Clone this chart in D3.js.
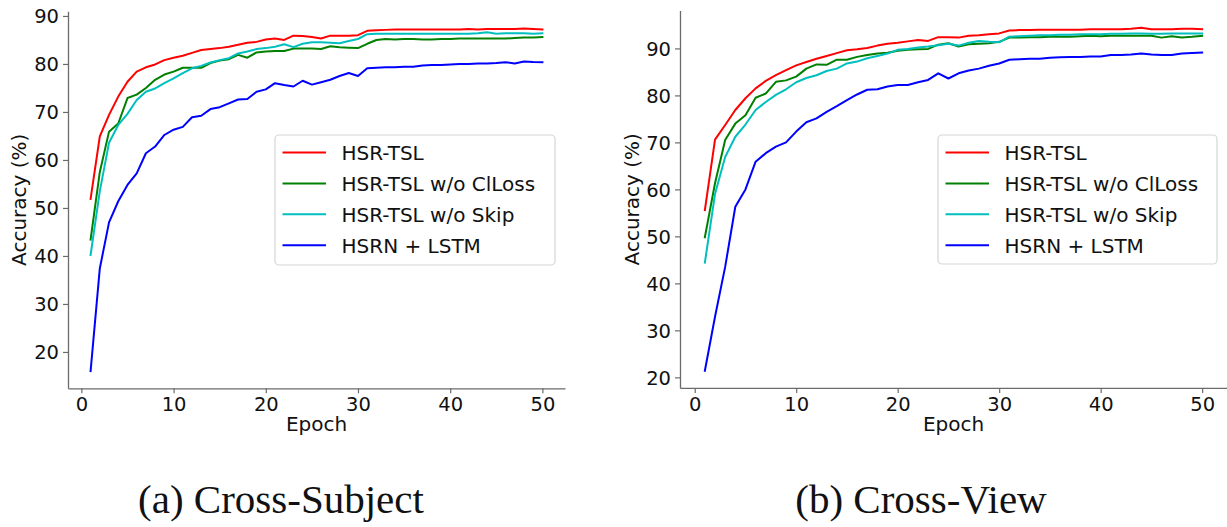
<!DOCTYPE html>
<html>
<head>
<meta charset="utf-8">
<script src="https://cdn.jsdelivr.net/npm/d3@7"></script>
<style>
  html, body { margin: 0; padding: 0; background: #fff; }
  svg { display: block; }
  .tick text { font-family: "DejaVu Sans", sans-serif; fill: #111; }
</style>
</head>
<body>
<svg id="fig" width="1227" height="527"></svg>
<script>
// Training epochs (x axis)
const epochs = d3.range(1, 51);

const seriesNames = ["HSR-TSL", "HSR-TSL w/o ClLoss", "HSR-TSL w/o Skip", "HSRN + LSTM"];
const xTicks = [0, 10, 20, 30, 40, 50];
const yTicks = [20, 30, 40, 50, 60, 70, 80, 90];
const captions = ["(a) Cross-Subject", "(b) Cross-View"];

// Cross-Subject accuracy (%) per epoch
const csFull = [51.9, 64.9, 69.4, 73.2, 76.3, 78.4, 79.3, 79.9, 80.8, 81.3,
  81.7, 82.3, 82.9, 83.1, 83.3, 83.6, 84.0, 84.4, 84.6, 85.1,
  85.3, 85.0, 85.9, 85.8, 85.6, 85.3, 85.9, 85.9, 85.9, 86.0,
  86.9, 87.0, 87.1, 87.2, 87.2, 87.2, 87.2, 87.2, 87.2, 87.2,
  87.2, 87.3, 87.2, 87.3, 87.3, 87.3, 87.3, 87.4, 87.3, 87.2];
const csNoClLoss = [43.4, 57.5, 65.9, 67.6, 72.9, 73.6, 75.0, 76.7, 77.8, 78.4,
  79.2, 79.2, 79.2, 80.2, 80.7, 81.0, 81.9, 81.3, 82.4, 82.6,
  82.7, 82.7, 83.2, 83.2, 83.2, 83.1, 83.7, 83.5, 83.4, 83.3,
  84.2, 85.0, 85.2, 85.1, 85.2, 85.2, 85.1, 85.1, 85.2, 85.2,
  85.3, 85.3, 85.3, 85.3, 85.3, 85.3, 85.4, 85.5, 85.5, 85.6];
const csNoSkip = [40.2, 53.5, 63.6, 67.3, 69.6, 72.5, 74.2, 74.9, 76.0, 77.0,
  78.1, 79.1, 79.6, 80.3, 80.8, 81.2, 82.2, 82.6, 83.1, 83.3,
  83.6, 84.1, 83.5, 84.2, 84.5, 84.5, 84.4, 84.3, 84.8, 85.2,
  86.2, 86.3, 86.3, 86.3, 86.3, 86.3, 86.3, 86.3, 86.3, 86.3,
  86.3, 86.3, 86.4, 86.6, 86.3, 86.4, 86.4, 86.4, 86.3, 86.4];
const csLstm = [16.0, 37.4, 47.0, 51.4, 54.8, 57.2, 61.4, 62.8, 65.2, 66.3,
  66.9, 68.9, 69.2, 70.6, 71.0, 71.8, 72.6, 72.7, 74.2, 74.7,
  76.0, 75.6, 75.3, 76.5, 75.7, 76.2, 76.7, 77.5, 78.1, 77.5,
  79.1, 79.2, 79.3, 79.3, 79.4, 79.4, 79.7, 79.8, 79.8, 79.9,
  80.0, 80.0, 80.1, 80.1, 80.2, 80.35, 80.1, 80.5, 80.4, 80.35];

// Cross-View accuracy (%) per epoch
const cvFull = [55.6, 70.6, 73.7, 76.9, 79.4, 81.5, 83.1, 84.3, 85.4, 86.4,
  87.1, 87.8, 88.4, 89.0, 89.6, 89.8, 90.1, 90.6, 91.0, 91.2,
  91.5, 91.8, 91.6, 92.4, 92.4, 92.3, 92.7, 92.8, 93.0, 93.2,
  93.8, 93.9, 93.9, 94.0, 94.0, 94.0, 94.0, 94.0, 94.1, 94.1,
  94.1, 94.1, 94.2, 94.4, 94.1, 94.1, 94.1, 94.2, 94.2, 94.1];
const cvNoClLoss = [49.8, 61.3, 70.5, 74.0, 75.8, 79.5, 80.4, 82.9, 83.2, 84.0,
  85.7, 86.6, 86.5, 87.6, 87.6, 88.2, 88.6, 88.9, 89.1, 89.5,
  89.7, 89.8, 89.9, 90.8, 91.1, 90.4, 90.9, 91.0, 91.1, 91.4,
  92.3, 92.3, 92.4, 92.4, 92.5, 92.5, 92.5, 92.6, 92.7, 92.6,
  92.7, 92.7, 92.7, 92.7, 92.7, 92.3, 92.6, 92.35, 92.5, 92.7];
const cvNoSkip = [44.4, 59.0, 66.9, 71.2, 73.8, 76.9, 78.6, 80.1, 81.3, 82.8,
  83.7, 84.3, 85.2, 85.7, 86.8, 87.2, 87.9, 88.4, 88.9, 89.7,
  89.9, 90.2, 90.4, 90.7, 91.0, 90.6, 91.2, 91.6, 91.4, 91.3,
  92.5, 92.6, 92.7, 92.8, 92.8, 92.9, 92.9, 93.0, 93.0, 93.0,
  93.1, 93.1, 93.2, 93.2, 93.1, 93.1, 93.2, 93.2, 93.2, 93.2];
const cvLstm = [21.4, 32.9, 43.5, 56.3, 60.0, 65.9, 67.7, 69.1, 70.0, 72.3,
  74.3, 75.1, 76.5, 77.7, 79.0, 80.2, 81.2, 81.3, 81.9, 82.2,
  82.2, 82.8, 83.3, 84.7, 83.6, 84.7, 85.3, 85.7, 86.3, 86.8,
  87.6, 87.7, 87.8, 87.8, 88.0, 88.1, 88.2, 88.2, 88.3, 88.3,
  88.6, 88.6, 88.7, 88.9, 88.7, 88.6, 88.6, 88.9, 89.0, 89.1];

// Line colours: red, green, cyan, blue
const lineColors = ["#ff0000", "#008000", "#00bfbf", "#0000ff"];

const panels = [
  { series: [csFull, csNoClLoss, csNoSkip, csLstm], caption: captions[0],
    box: { left: 68, right: 565, top: 11.3, bottom: 388.3 },
    yLabelX: 26, legend: { left: 275, right: 555, top: 135, bottom: 265 },
    captionX: 281 },
  { series: [cvFull, cvNoClLoss, cvNoSkip, cvLstm], caption: captions[1],
    box: { left: 680, right: 1227, top: 10.6, bottom: 387.9 },
    yLabelX: 639, legend: { left: 938, right: 1217, top: 135, bottom: 264 },
    captionX: 921 }
];

const svg = d3.select("#fig");
const tickFont = 19.5;
const labelFont = 20;

panels.forEach(p => {
  const g = svg.append("g");
  const b = p.box;

  // axis limits with a 5% margin around the data, as a matplotlib figure would
  const xMin = d3.min(epochs), xMax = d3.max(epochs);
  const xPad = (xMax - xMin) * 0.05;
  const allVals = p.series.flat();
  const yMin = d3.min(allVals), yMax = d3.max(allVals);
  const yPad = (yMax - yMin) * 0.05;

  const x = d3.scaleLinear().domain([xMin - xPad, xMax + xPad]).range([b.left, b.right]);
  const y = d3.scaleLinear().domain([yMin - yPad, yMax + yPad]).range([b.bottom, b.top]);

  // curves
  const line = d3.line().x((d, i) => x(epochs[i])).y(d => y(d));
  p.series.forEach((vals, k) => {
    g.append("path")
      .datum(vals)
      .attr("d", line)
      .attr("fill", "none")
      .attr("stroke", lineColors[k])
      .attr("stroke-width", 2)
      .attr("stroke-linejoin", "round")
      .attr("stroke-linecap", "square");
  });

  // axes (left and bottom spines only)
  const xAxis = g.append("g")
    .attr("transform", `translate(0,${b.bottom})`)
    .call(d3.axisBottom(x).tickValues(xTicks).tickFormat(d3.format("d"))
      .tickSize(5).tickSizeOuter(0).tickPadding(4));
  const yAxis = g.append("g")
    .attr("transform", `translate(${b.left},0)`)
    .call(d3.axisLeft(y).tickValues(yTicks).tickFormat(d3.format("d"))
      .tickSize(5).tickSizeOuter(0).tickPadding(4));

  [xAxis, yAxis].forEach(a => {
    a.select(".domain").attr("stroke", "#6b6b6b").attr("stroke-width", 1.3);
    a.selectAll(".tick line").attr("stroke", "#6b6b6b").attr("stroke-width", 1.2);
    a.selectAll(".tick text").attr("font-size", tickFont).attr("fill", "#111");
  });
  yAxis.selectAll(".tick text").attr("dy", "0.36em");

  // axis titles
  g.append("text")
    .attr("x", (b.left + b.right) / 2)
    .attr("y", 431)
    .attr("text-anchor", "middle")
    .attr("font-family", "DejaVu Sans, sans-serif")
    .attr("font-size", labelFont)
    .attr("fill", "#111")
    .text("Epoch");
  g.append("text")
    .attr("transform", `translate(${p.yLabelX},${(b.top + b.bottom) / 2}) rotate(-90)`)
    .attr("text-anchor", "middle")
    .attr("font-family", "DejaVu Sans, sans-serif")
    .attr("font-size", labelFont)
    .attr("fill", "#111")
    .text("Accuracy (%)");

  // legend
  const L = p.legend;
  const lg = g.append("g");
  lg.append("rect")
    .attr("x", L.left).attr("y", L.top)
    .attr("width", L.right - L.left).attr("height", L.bottom - L.top)
    .attr("rx", 4).attr("ry", 4)
    .attr("fill", "#fff").attr("fill-opacity", 0.8)
    .attr("stroke", "#d6d6d6").attr("stroke-width", 1.2);
  const rowH = (L.bottom - L.top) / seriesNames.length;
  seriesNames.forEach((name, k) => {
    const cy = L.top + 17.5 + k * 30.9;
    lg.append("line")
      .attr("x1", L.left + 7.5).attr("x2", L.left + 51)
      .attr("y1", cy).attr("y2", cy)
      .attr("stroke", lineColors[k]).attr("stroke-width", 2);
    lg.append("text")
      .attr("x", L.left + 66.5).attr("y", cy + 7.3)
      .attr("font-family", "DejaVu Sans, sans-serif")
      .attr("font-size", labelFont)
      .attr("fill", "#111")
      .text(name);
  });

  // sub-figure caption
  g.append("text")
    .attr("x", p.captionX)
    .attr("y", 513)
    .attr("text-anchor", "middle")
    .attr("font-family", "Liberation Serif, serif")
    .attr("font-size", 41)
    .attr("fill", "#111")
    .text(p.caption);
});
</script>
</body>
</html>
